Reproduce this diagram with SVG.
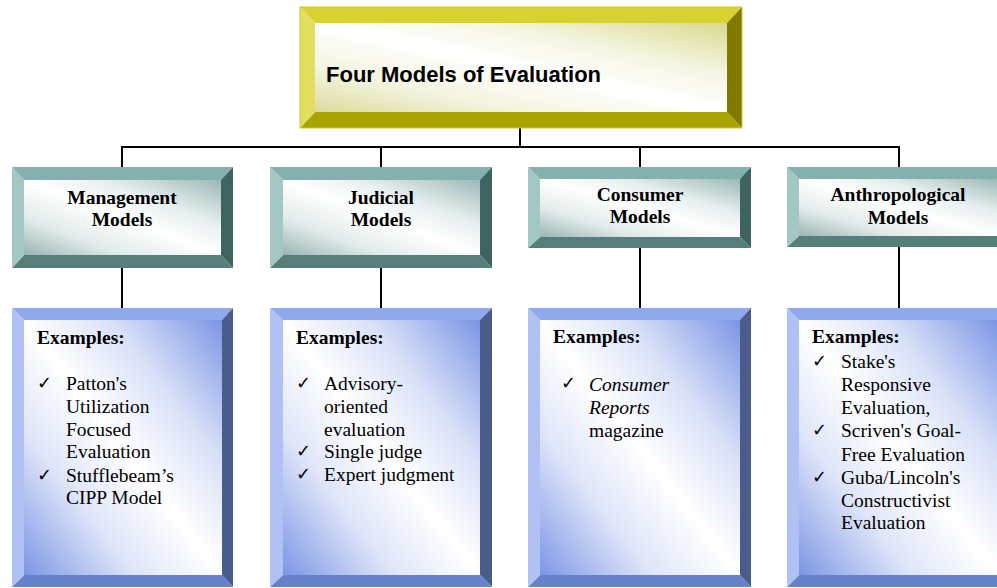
<svg xmlns="http://www.w3.org/2000/svg" width="997" height="588" viewBox="0 0 997 588">
<style>
.hd{font-family:"Liberation Serif","Times New Roman",serif;font-weight:bold;font-size:19.5px;fill:#000;text-anchor:middle}
.ex{font-family:"Liberation Serif","Times New Roman",serif;font-weight:bold;font-size:19.5px;fill:#000}
.bd{font-family:"Liberation Serif","Times New Roman",serif;font-size:19.5px;fill:#000}
.ck{font-family:"DejaVu Sans",sans-serif;font-size:18px;fill:#000}
.ti{font-family:"Liberation Sans",Arial,sans-serif;font-weight:bold;font-size:22px;fill:#000}
.conn{stroke:#000;stroke-width:2;fill:none}
.yt{fill:#D7D232}.yl{fill:#E2DE62}.yr{fill:#807A00}.yb{fill:#A9A500}
.tt{fill:#84B0AE}.tl{fill:#A3C7C5}.tr{fill:#3F6361}.tb{fill:#567F7C}
.bt{fill:#90A8EC}.bl{fill:#B2C1F3}.br{fill:#4A5C8C}.bb{fill:#6781CA}
</style>
<defs>
<linearGradient id="gY" x1="1" y1="0" x2="0" y2="1">
<stop offset="0" stop-color="#D9D98E"/>
<stop offset="0.3" stop-color="#F6F6E4"/>
<stop offset="0.5" stop-color="#FFFFFF"/>
<stop offset="0.75" stop-color="#F4F4E0"/>
<stop offset="1" stop-color="#DCDC9C"/>
</linearGradient>
<linearGradient id="gT" x1="1" y1="0" x2="0" y2="1">
<stop offset="0" stop-color="#9CB8B7"/>
<stop offset="0.3" stop-color="#E6EEEE"/>
<stop offset="0.5" stop-color="#FFFFFF"/>
<stop offset="0.75" stop-color="#E2EBEA"/>
<stop offset="1" stop-color="#9AB4B3"/>
</linearGradient>
<linearGradient id="gB" x1="1" y1="0" x2="0" y2="1">
<stop offset="0" stop-color="#7B95E4"/>
<stop offset="0.28" stop-color="#D9E1F8"/>
<stop offset="0.5" stop-color="#FFFFFF"/>
<stop offset="0.72" stop-color="#DEE5F9"/>
<stop offset="1" stop-color="#7C96E4"/>
</linearGradient>
</defs>

<g id="connectors">
<line class="conn" x1="520" y1="128" x2="520" y2="147"/>
<line class="conn" x1="121" y1="147" x2="900" y2="147"/>
<line class="conn" x1="122" y1="147" x2="122" y2="167"/>
<line class="conn" x1="381" y1="147" x2="381" y2="167"/>
<line class="conn" x1="640" y1="147" x2="640" y2="167"/>
<line class="conn" x1="899" y1="147" x2="899" y2="167"/>
<line class="conn" x1="122" y1="268" x2="122" y2="308"/>
<line class="conn" x1="381" y1="268" x2="381" y2="308"/>
<line class="conn" x1="640" y1="248" x2="640" y2="308"/>
<line class="conn" x1="899" y1="247" x2="899" y2="308"/>
</g>

<g id="title">
<rect x="315" y="23" width="412" height="89" fill="url(#gY)"/>
<polygon class="yt" points="300,7 742,7 727,23 315,23"/>
<polygon class="yr" points="742,7 742,128 727,112 727,23"/>
<polygon class="yb" points="300,128 742,128 727,112 315,112"/>
<polygon class="yl" points="300,7 300,128 315,112 315,23"/>
<rect x="300" y="7" width="442" height="121" fill="none" stroke="#CFCB20" stroke-width="1"/>
<text class="ti" x="326" y="82">Four Models of Evaluation</text>
</g>

<g id="management-header">
<rect x="24" y="180" width="197" height="75" fill="url(#gT)"/>
<polygon class="tt" points="12,167 233,167 221,180 24,180"/>
<polygon class="tr" points="233,167 233,268 221,255 221,180"/>
<polygon class="tb" points="12,268 233,268 221,255 24,255"/>
<polygon class="tl" points="12,167 12,268 24,255 24,180"/>
<text class="hd" x="122" y="204">Management</text>
<text class="hd" x="122" y="226">Models</text>
</g>

<g id="judicial-header">
<rect x="283" y="180" width="197" height="75" fill="url(#gT)"/>
<polygon class="tt" points="270,167 492,167 480,180 283,180"/>
<polygon class="tr" points="492,167 492,268 480,255 480,180"/>
<polygon class="tb" points="270,268 492,268 480,255 283,255"/>
<polygon class="tl" points="270,167 270,268 283,255 283,180"/>
<text class="hd" x="381" y="204">Judicial</text>
<text class="hd" x="381" y="226">Models</text>
</g>

<g id="consumer-header">
<rect x="540" y="179" width="200" height="58" fill="url(#gT)"/>
<polygon class="tt" points="528,167 751,167 740,179 540,179"/>
<polygon class="tr" points="751,167 751,248 740,237 740,179"/>
<polygon class="tb" points="528,248 751,248 740,237 540,237"/>
<polygon class="tl" points="528,167 528,248 540,237 540,179"/>
<text class="hd" x="640" y="201">Consumer</text>
<text class="hd" x="640" y="223">Models</text>
</g>

<g id="anthropological-header">
<rect x="799" y="179" width="200" height="57" fill="url(#gT)"/>
<polygon class="tt" points="787,167 1010,167 999,179 799,179"/>
<polygon class="tb" points="787,247 1010,247 999,236 799,236"/>
<polygon class="tl" points="787,167 787,247 799,236 799,179"/>
<text class="hd" x="898" y="201">Anthropological</text>
<text class="hd" x="898" y="224">Models</text>
</g>

<g id="management-examples">
<rect x="24" y="320" width="198" height="255" fill="url(#gB)"/>
<polygon class="bt" points="12,308 233,308 222,320 24,320"/>
<polygon class="br" points="233,308 233,587 222,575 222,320"/>
<polygon class="bb" points="12,587 233,587 222,575 24,575"/>
<polygon class="bl" points="12,308 12,587 24,575 24,320"/>
<text class="ex" x="37" y="344">Examples:</text>
<text class="ck" x="37" y="389">✓</text>
<text class="bd" x="66" y="390">Patton's</text>
<text class="bd" x="66" y="413">Utilization</text>
<text class="bd" x="66" y="436">Focused</text>
<text class="bd" x="66" y="458">Evaluation</text>
<text class="ck" x="37" y="481">✓</text>
<text class="bd" x="66" y="482">Stufflebeam’s</text>
<text class="bd" x="66" y="504">CIPP Model</text>
</g>

<g id="judicial-examples">
<rect x="283" y="320" width="197" height="255" fill="url(#gB)"/>
<polygon class="bt" points="270,308 492,308 480,320 283,320"/>
<polygon class="br" points="492,308 492,587 480,575 480,320"/>
<polygon class="bb" points="270,587 492,587 480,575 283,575"/>
<polygon class="bl" points="270,308 270,587 283,575 283,320"/>
<text class="ex" x="296" y="344">Examples:</text>
<text class="ck" x="296" y="389">✓</text>
<text class="bd" x="324" y="390">Advisory-</text>
<text class="bd" x="324" y="413">oriented</text>
<text class="bd" x="324" y="436">evaluation</text>
<text class="ck" x="296" y="457">✓</text>
<text class="bd" x="324" y="458">Single judge</text>
<text class="ck" x="296" y="480">✓</text>
<text class="bd" x="324" y="481">Expert judgment</text>
</g>

<g id="consumer-examples">
<rect x="540" y="320" width="200" height="255" fill="url(#gB)"/>
<polygon class="bt" points="528,308 751,308 740,320 540,320"/>
<polygon class="br" points="751,308 751,587 740,575 740,320"/>
<polygon class="bb" points="528,587 751,587 740,575 540,575"/>
<polygon class="bl" points="528,308 528,587 540,575 540,320"/>
<text class="ex" x="553" y="343">Examples:</text>
<text class="ck" x="561" y="389">✓</text>
<text class="bd" x="589" y="391" font-style="italic">Consumer</text>
<text class="bd" x="589" y="414" font-style="italic">Reports</text>
<text class="bd" x="589" y="437">magazine</text>
</g>

<g id="anthropological-examples">
<rect x="799" y="320" width="200" height="255" fill="url(#gB)"/>
<polygon class="bt" points="787,308 1010,308 999,320 799,320"/>
<polygon class="bb" points="787,587 1010,587 999,575 799,575"/>
<polygon class="bl" points="787,308 787,587 799,575 799,320"/>
<text class="ex" x="812" y="343">Examples:</text>
<text class="ck" x="812" y="367" font-size="20">✓</text>
<text class="bd" x="841" y="368">Stake's</text>
<text class="bd" x="841" y="391">Responsive</text>
<text class="bd" x="841" y="414">Evaluation,</text>
<text class="ck" x="812" y="436" font-size="20">✓</text>
<text class="bd" x="841" y="437">Scriven's Goal-</text>
<text class="bd" x="841" y="461">Free Evaluation</text>
<text class="ck" x="812" y="483" font-size="20">✓</text>
<text class="bd" x="841" y="484">Guba/Lincoln's</text>
<text class="bd" x="841" y="507">Constructivist</text>
<text class="bd" x="841" y="529">Evaluation</text>
</g>
</svg>
